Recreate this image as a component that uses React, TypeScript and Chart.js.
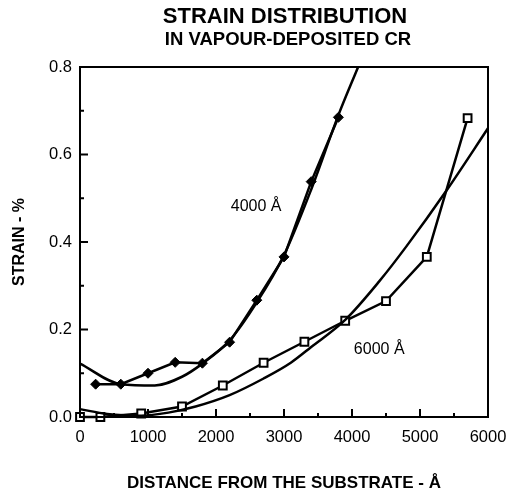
import React, { useEffect, useRef } from "react";
import { Chart, registerables } from "chart.js";

Chart.register(...registerables);

const titleLines = ["STRAIN DISTRIBUTION", "IN VAPOUR-DEPOSITED CR"];
const xAxisTitle = "DISTANCE FROM THE SUBSTRATE - Å";
const yAxisTitle = "STRAIN - %";

const xMin = 0;
const xMax = 6000;
const yMin = 0;
const yMax = 0.8;

// measured points, 4000 Å film (diamonds)
const d4000X = [230, 600, 1000, 1400, 1800, 2200, 2600, 3000, 3400, 3800];
const d4000Y = [0.075, 0.075, 0.1, 0.125, 0.123, 0.171, 0.267, 0.366, 0.538, 0.685];
// fitted curve, 4000 Å
const fit4000X = [0, 600, 1100, 1500, 1800, 2200, 2600, 3000, 3400, 3800, 4090];
const fit4000Y = [0.122, 0.075, 0.072, 0.092, 0.122, 0.175, 0.262, 0.37, 0.52, 0.69, 0.8];

// measured points, 6000 Å film (squares)
const d6000X = [0, 300, 900, 1500, 2100, 2700, 3300, 3900, 4500, 5100, 5700];
const d6000Y = [0, 0, 0.008, 0.024, 0.072, 0.124, 0.172, 0.22, 0.265, 0.366, 0.683];
// fitted curve, 6000 Å
const fit6000X = [0, 400, 900, 1300, 1700, 2200, 2700, 3100, 3400, 3900, 4400, 4800, 5400, 6000];
const fit6000Y = [0.018, 0.007, 0.003, 0.01, 0.024, 0.05, 0.088, 0.124, 0.16, 0.222, 0.31, 0.39, 0.52, 0.66];

// curve labels
const curveLabels = ["4000 Å", "6000 Å"];
const curveLabelX = [2590, 4400];
const curveLabelY = [0.482, 0.153];

const FONT = "'Liberation Sans', Arial, Helvetica, sans-serif";

const toPts = (xs: number[], ys: number[]) => xs.map((x, i) => ({ x, y: ys[i] }));

const decorPlugin = {
  id: "decor",
  afterDraw(chart: any) {
    const { ctx, chartArea, scales } = chart;
    const { left, right, top, bottom } = chartArea;
    const xs = scales.x;
    const ys = scales.y;
    ctx.save();
    ctx.strokeStyle = "#000";
    ctx.lineWidth = 2;
    ctx.strokeRect(left, top, right - left, bottom - top);
    ctx.beginPath();
    for (let v = 500; v < xMax; v += 500) {
      const px = xs.getPixelForValue(v);
      const len = v % 1000 === 0 ? 8 : 4;
      ctx.moveTo(px, bottom);
      ctx.lineTo(px, bottom - len);
    }
    for (let i = 1; i < 8; i++) {
      const py = ys.getPixelForValue(i * 0.1);
      const len = i % 2 === 0 ? 8 : 4;
      ctx.moveTo(left, py);
      ctx.lineTo(left + len, py);
    }
    ctx.stroke();

    ctx.fillStyle = "#000";
    ctx.textAlign = "center";
    ctx.textBaseline = "alphabetic";
    const cx = (left + right) / 2 + 1;
    ctx.font = `bold 22px ${FONT}`;
    ctx.fillText(titleLines[0], cx, 22.5);
    ctx.font = `bold 18.5px ${FONT}`;
    ctx.fillText(titleLines[1], cx + 3, 45);

    ctx.font = `16px ${FONT}`;
    ctx.textBaseline = "middle";
    curveLabels.forEach((t, i) => {
      ctx.fillText(t, xs.getPixelForValue(curveLabelX[i]), ys.getPixelForValue(curveLabelY[i]));
    });
    ctx.restore();
  },
};

export default function App() {
  const ref = useRef<HTMLCanvasElement | null>(null);

  useEffect(() => {
    document.body.style.margin = "0";
    const canvas = ref.current;
    if (!canvas) return;
    const chart = new Chart(canvas, {
      type: "scatter",
      data: {
        datasets: [
          {
            label: "fit 4000",
            data: toPts(fit4000X, fit4000Y),
            showLine: true,
            borderColor: "#000",
            borderWidth: 2.5,
            pointRadius: 0,
            cubicInterpolationMode: "monotone",
          },
          {
            label: "fit 6000",
            data: toPts(fit6000X, fit6000Y),
            showLine: true,
            borderColor: "#000",
            borderWidth: 2.5,
            pointRadius: 0,
            cubicInterpolationMode: "monotone",
          },
          {
            label: "4000 Å",
            data: toPts(d4000X, d4000Y),
            showLine: true,
            borderColor: "#000",
            borderWidth: 2.5,
            pointStyle: "rectRot",
            pointRadius: 5,
            pointBackgroundColor: "#000",
            pointBorderColor: "#000",
            pointBorderWidth: 1,
          },
          {
            label: "6000 Å",
            data: toPts(d6000X, d6000Y),
            showLine: true,
            borderColor: "#000",
            borderWidth: 2.5,
            pointStyle: "rect",
            pointRadius: 5.5,
            pointBackgroundColor: "#fff",
            pointBorderColor: "#000",
            pointBorderWidth: 2,
          },
          {
            label: "6000 Å dots",
            data: toPts(d6000X, d6000Y),
            showLine: false,
            pointStyle: "rect",
            pointRadius: 1.2,
            pointBackgroundColor: "#000",
            pointBorderColor: "#000",
            pointBorderWidth: 0,
          },
        ],
      },
      options: {
        responsive: false,
        animation: false,
        clip: false as any,
        layout: { padding: { left: 0, right: 24, top: 67, bottom: 0 } },
        plugins: {
          legend: { display: false },
          title: { display: false },
          tooltip: { enabled: false },
        },
        scales: {
          x: {
            type: "linear",
            min: xMin,
            max: xMax,
            grid: { display: false, drawTicks: false },
            border: { display: false },
            ticks: {
              stepSize: 1000,
              color: "#000",
              padding: 11,
              font: { family: FONT, size: 16.5 },
              maxRotation: 0,
              callback: (v: any) => String(v),
            },
            title: {
              display: true,
              text: xAxisTitle,
              color: "#000",
              font: { family: FONT, size: 17, weight: "bold", lineHeight: 1 },
              padding: { top: 0, bottom: 0 },
            },
            afterFit(scale: any) {
              scale.height = 75;
              scale.paddingLeft = 0;
              scale.paddingRight = 0;
            },
          },
          y: {
            type: "linear",
            min: yMin,
            max: yMax,
            grid: { display: false, drawTicks: false },
            border: { display: false },
            ticks: {
              stepSize: 0.2,
              color: "#000",
              padding: 8,
              font: { family: FONT, size: 16.5 },
              callback: (v: any) => Number(v).toFixed(1),
            },
            title: {
              display: true,
              text: yAxisTitle,
              color: "#000",
              font: { family: FONT, size: 16, weight: "bold", lineHeight: 1 },
              padding: { top: 12, bottom: 0 },
            },
            afterFit(scale: any) {
              scale.width = 80;
              scale.paddingTop = 0;
              scale.paddingBottom = 0;
            },
          },
        },
      },
      plugins: [decorPlugin],
    });
    return () => chart.destroy();
  }, []);

  return <canvas ref={ref} width={512} height={492} style={{ display: "block" }} />;
}
